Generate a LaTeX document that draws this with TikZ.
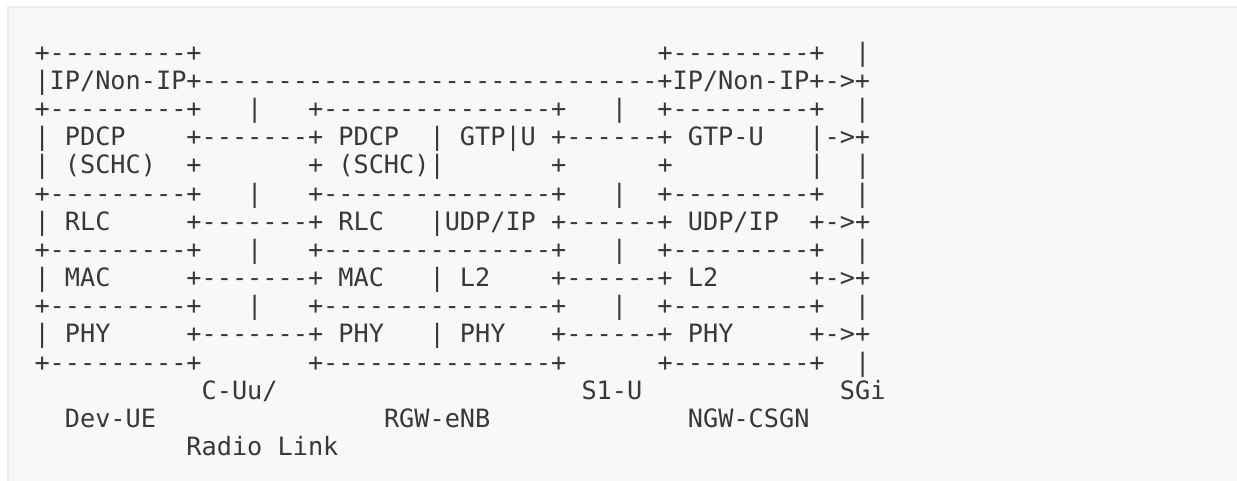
\documentclass[tikz,border=0pt]{standalone}
\usepackage{fontspec}
\setmonofont{DejaVu Sans Mono}
\usepackage{xcolor}
\definecolor{sfondo}{HTML}{F8F8F8}
\definecolor{bordo}{HTML}{EBEBEB}
\definecolor{testo}{HTML}{383838}
\tikzset{riga/.style = {anchor = base west, inner sep = 0pt, text = testo, font = \ttfamily\fontsize{12.62pt}{14pt}\selectfont}}

\begin{document}
\begin{tikzpicture}[x = 0.5pt, y = -0.5pt]
    % Parametri
    \pgfmathsetmacro{\larg}{1237}
    \pgfmathsetmacro{\alt}{481}
    \pgfmathsetmacro{\xzero}{34.1}
    \pgfmathsetmacro{\yzero}{61.1}
    \pgfmathsetmacro{\passo}{28.18}
    % Sfondo
    \useasboundingbox (0,0) rectangle (\larg,\alt);
    \fill[sfondo] (8,7) rectangle (\larg,\alt);
    \draw[bordo, line width = 1pt] (8,\alt) -- (8,7) -- (\larg,7);
    % Righe
    \foreach \linea [count = \i from 0] in {
        +---------+~~~~~~~~~~~~~~~~~~~~~~~~~~~~~~+---------+~~|,
        |IP/Non-IP+------------------------------+IP/Non-IP+->+,
        +---------+~~~|~~~+---------------+~~~|~~+---------+~~|,
        |~PDCP~~~~+-------+~PDCP~~|~GTP|U~+------+~GTP-U~~~|->+,
        |~(SCHC)~~+~~~~~~~+~(SCHC)|~~~~~~~+~~~~~~+~~~~~~~~~|~~|,
        +---------+~~~|~~~+---------------+~~~|~~+---------+~~|,
        |~RLC~~~~~+-------+~RLC~~~|UDP/IP~+------+~UDP/IP~~+->+,
        +---------+~~~|~~~+---------------+~~~|~~+---------+~~|,
        |~MAC~~~~~+-------+~MAC~~~|~L2~~~~+------+~L2~~~~~~+->+,
        +---------+~~~|~~~+---------------+~~~|~~+---------+~~|,
        |~PHY~~~~~+-------+~PHY~~~|~PHY~~~+------+~PHY~~~~~+->+,
        +---------+~~~~~~~+---------------+~~~~~~+---------+~~|,
        ~~~~~~~~~~~C-Uu/~~~~~~~~~~~~~~~~~~~~S1-U~~~~~~~~~~~~~SGi,
        ~~Dev-UE~~~~~~~~~~~~~~~RGW-eNB~~~~~~~~~~~~~NGW-CSGN,
        ~~~~~~~~~~Radio~Link} {
        \node[riga] (riga\i) at (\xzero, {\yzero+\passo*\i}) {\linea};
    };
\end{tikzpicture}
\end{document}
